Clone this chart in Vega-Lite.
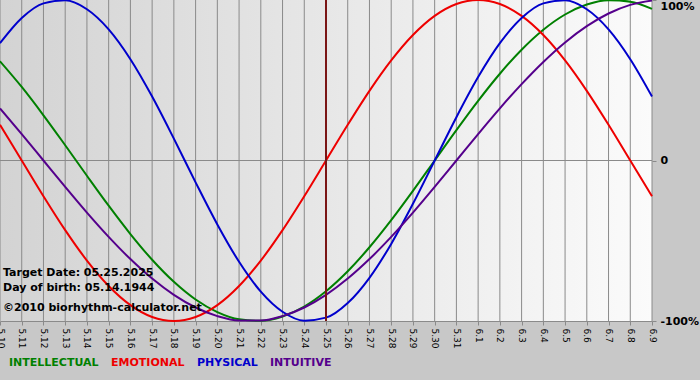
{
  "$schema": "https://vega.github.io/schema/vega-lite/v6.json",
  "width": 652,
  "height": 321,
  "autosize": {"type": "none"},
  "padding": {"left": 0, "top": 0, "right": 48, "bottom": 59},
  "background": "#c8c8c8",
  "config": {"view": {"stroke": null}, "font": "DejaVu Sans"},
  "datasets": {
    "bio": [
      {"date":"5.10","PHYSICAL":0.7308,"EMOTIONAL":0.2225,"INTELLECTUAL":0.6182,"INTUITIVE":0.3247},
      {"date":"5.11","PHYSICAL":0.8879,"EMOTIONAL":0,"INTELLECTUAL":0.4582,"INTUITIVE":0.1646},
      {"date":"5.12","PHYSICAL":0.9791,"EMOTIONAL":-0.2225,"INTELLECTUAL":0.2817,"INTUITIVE":0},
      {"date":"5.13","PHYSICAL":0.9977,"EMOTIONAL":-0.4339,"INTELLECTUAL":0.0951,"INTUITIVE":-0.1646},
      {"date":"5.14","PHYSICAL":0.9423,"EMOTIONAL":-0.6235,"INTELLECTUAL":-0.0951,"INTUITIVE":-0.3247},
      {"date":"5.15","PHYSICAL":0.8170,"EMOTIONAL":-0.7818,"INTELLECTUAL":-0.2817,"INTUITIVE":-0.4759},
      {"date":"5.16","PHYSICAL":0.6311,"EMOTIONAL":-0.9010,"INTELLECTUAL":-0.4582,"INTUITIVE":-0.6142},
      {"date":"5.17","PHYSICAL":0.3984,"EMOTIONAL":-0.9749,"INTELLECTUAL":-0.6182,"INTUITIVE":-0.7357},
      {"date":"5.18","PHYSICAL":0.1362,"EMOTIONAL":-1,"INTELLECTUAL":-0.7557,"INTUITIVE":-0.8372},
      {"date":"5.19","PHYSICAL":-0.1362,"EMOTIONAL":-0.9749,"INTELLECTUAL":-0.8660,"INTUITIVE":-0.9158},
      {"date":"5.20","PHYSICAL":-0.3984,"EMOTIONAL":-0.9010,"INTELLECTUAL":-0.9450,"INTUITIVE":-0.9694},
      {"date":"5.21","PHYSICAL":-0.6311,"EMOTIONAL":-0.7818,"INTELLECTUAL":-0.9898,"INTUITIVE":-0.9966},
      {"date":"5.22","PHYSICAL":-0.8170,"EMOTIONAL":-0.6235,"INTELLECTUAL":-0.9989,"INTUITIVE":-0.9966},
      {"date":"5.23","PHYSICAL":-0.9423,"EMOTIONAL":-0.4339,"INTELLECTUAL":-0.9718,"INTUITIVE":-0.9694},
      {"date":"5.24","PHYSICAL":-0.9977,"EMOTIONAL":-0.2225,"INTELLECTUAL":-0.9096,"INTUITIVE":-0.9158},
      {"date":"5.25","PHYSICAL":-0.9791,"EMOTIONAL":0,"INTELLECTUAL":-0.8146,"INTUITIVE":-0.8372},
      {"date":"5.26","PHYSICAL":-0.8879,"EMOTIONAL":0.2225,"INTELLECTUAL":-0.6901,"INTUITIVE":-0.7357},
      {"date":"5.27","PHYSICAL":-0.7308,"EMOTIONAL":0.4339,"INTELLECTUAL":-0.5406,"INTUITIVE":-0.6142},
      {"date":"5.28","PHYSICAL":-0.5196,"EMOTIONAL":0.6235,"INTELLECTUAL":-0.3717,"INTUITIVE":-0.4759},
      {"date":"5.29","PHYSICAL":-0.2698,"EMOTIONAL":0.7818,"INTELLECTUAL":-0.1893,"INTUITIVE":-0.3247},
      {"date":"5.30","PHYSICAL":0,"EMOTIONAL":0.9010,"INTELLECTUAL":0,"INTUITIVE":-0.1646},
      {"date":"5.31","PHYSICAL":0.2698,"EMOTIONAL":0.9749,"INTELLECTUAL":0.1893,"INTUITIVE":0},
      {"date":"6.1","PHYSICAL":0.5196,"EMOTIONAL":1,"INTELLECTUAL":0.3717,"INTUITIVE":0.1646},
      {"date":"6.2","PHYSICAL":0.7308,"EMOTIONAL":0.9749,"INTELLECTUAL":0.5406,"INTUITIVE":0.3247},
      {"date":"6.3","PHYSICAL":0.8879,"EMOTIONAL":0.9010,"INTELLECTUAL":0.6901,"INTUITIVE":0.4759},
      {"date":"6.4","PHYSICAL":0.9791,"EMOTIONAL":0.7818,"INTELLECTUAL":0.8146,"INTUITIVE":0.6142},
      {"date":"6.5","PHYSICAL":0.9977,"EMOTIONAL":0.6235,"INTELLECTUAL":0.9096,"INTUITIVE":0.7357},
      {"date":"6.6","PHYSICAL":0.9423,"EMOTIONAL":0.4339,"INTELLECTUAL":0.9718,"INTUITIVE":0.8372},
      {"date":"6.7","PHYSICAL":0.8170,"EMOTIONAL":0.2225,"INTELLECTUAL":0.9989,"INTUITIVE":0.9158},
      {"date":"6.8","PHYSICAL":0.6311,"EMOTIONAL":0,"INTELLECTUAL":0.9898,"INTUITIVE":0.9694},
      {"date":"6.9","PHYSICAL":0.3984,"EMOTIONAL":-0.2225,"INTELLECTUAL":0.9450,"INTUITIVE":0.9966}
    ]
  },
  "data": {"name": "bio"},
  "layer": [
    {
      "data": {"values": [{}]},
      "mark": {
        "type": "rect",
        "fill": {
          "gradient": "linear",
          "x1": 0, "x2": 1, "y1": 0, "y2": 0,
          "stops": [
            {"offset": 0, "color": "#d3d3d3"},
            {"offset": 1, "color": "#fbfbfb"}
          ]
        }
      },
      "encoding": {}
    },
    {
      "mark": {"type": "rule", "color": "#8a8a8a", "strokeWidth": 1},
      "encoding": {
        "x": {
          "field": "date",
          "type": "ordinal",
          "scale": {
            "type": "point",
            "padding": 0,
            "domain": ["5.10","5.11","5.12","5.13","5.14","5.15","5.16","5.17","5.18","5.19","5.20","5.21","5.22","5.23","5.24","5.25","5.26","5.27","5.28","5.29","5.30","5.31","6.1","6.2","6.3","6.4","6.5","6.6","6.7","6.8","6.9"]
          },
          "axis": {
            "title": null,
            "grid": false,
            "labelAngle": 90,
            "labelAlign": "left",
            "labelBaseline": "middle",
            "labelFontSize": 9,
            "labelColor": "#000000",
            "labelPadding": 3,
            "tickSize": 4,
            "tickColor": "#8a8a8a",
            "domainColor": "#8a8a8a",
            "labelOverlap": false
          }
        }
      }
    },
    {
      "mark": {"type": "rule", "color": "#8a8a8a", "strokeWidth": 1},
      "encoding": {"y": {"datum": 0}}
    },
    {
      "transform": [{"fold": ["INTELLECTUAL", "EMOTIONAL", "PHYSICAL", "INTUITIVE"], "as": ["series", "value"]}],
      "mark": {"type": "line", "strokeWidth": 2, "interpolate": "monotone"},
      "encoding": {
        "x": {"field": "date", "type": "ordinal"},
        "y": {
          "field": "value",
          "type": "quantitative",
          "scale": {"domain": [-1, 1], "nice": false, "zero": false},
          "axis": {
            "orient": "right",
            "title": null,
            "values": [-1, 0, 1],
            "labelExpr": "datum.value == 1 ? '100%' : (datum.value == 0 ? '0' : '-100%')",
            "labelBaseline": {"condition": {"test": "datum.value == 1", "value": "top"}, "value": "middle"},
            "grid": false,
            "domain": false,
            "ticks": true,
            "tickSize": 4,
            "tickColor": "#8a8a8a",
            "labelFontSize": 11,
            "labelFontWeight": "bold",
            "labelColor": "#000000",
            "labelPadding": 4
          }
        },
        "color": {
          "field": "series",
          "type": "nominal",
          "scale": {
            "domain": ["INTELLECTUAL", "EMOTIONAL", "PHYSICAL", "INTUITIVE"],
            "range": ["#008000", "#ee0000", "#0000cc", "#55008c"]
          },
          "legend": {
            "orient": "bottom",
            "direction": "horizontal",
            "title": null,
            "symbolSize": 0,
            "symbolOpacity": 0,
            "symbolStrokeWidth": 0,
            "labelOffset": -2,
            "columnPadding": 3,
            "labelFontSize": 11,
            "labelFontWeight": "bold",
            "padding": 0,
            "offset": 8,
            "encode": {"labels": {"update": {"fill": {"scale": "color", "field": "value"}}}}
          }
        }
      }
    },
    {
      "data": {"values": [{"date": "5.25"}]},
      "mark": {"type": "rule", "color": "#7a1515", "strokeWidth": 2},
      "encoding": {"x": {"field": "date", "type": "ordinal"}}
    },
    {
      "data": {"values": [{}]},
      "mark": {"type": "text", "text": "Target Date: 05.25.2025", "align": "left", "baseline": "alphabetic", "dx": 3, "fontSize": 11, "fontWeight": "bold", "color": "#000000"},
      "encoding": {"x": {"datum": "5.10", "type": "ordinal"}, "y": {"datum": -0.718}}
    },
    {
      "data": {"values": [{}]},
      "mark": {"type": "text", "text": "Day of birth: 05.14.1944", "align": "left", "baseline": "alphabetic", "dx": 3, "fontSize": 11, "fontWeight": "bold", "color": "#000000"},
      "encoding": {"x": {"datum": "5.10", "type": "ordinal"}, "y": {"datum": -0.813}}
    },
    {
      "data": {"values": [{}]},
      "mark": {"type": "text", "text": "©2010 biorhythm-calculator.net", "align": "left", "baseline": "alphabetic", "dx": 3, "fontSize": 11, "fontWeight": "bold", "color": "#000000"},
      "encoding": {"x": {"datum": "5.10", "type": "ordinal"}, "y": {"datum": -0.938}}
    }
  ]
}
